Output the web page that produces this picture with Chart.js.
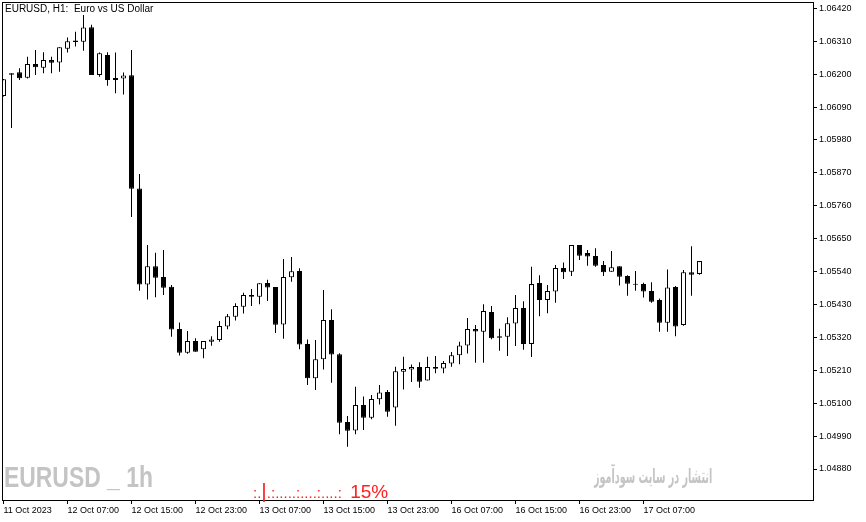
<!DOCTYPE html>
<html>
<head>
<meta charset="utf-8">
<script src="https://cdn.jsdelivr.net/npm/chart.js@4.4.0/dist/chart.umd.min.js"></script>
<style>
body { margin: 0; background: #fff; }
#wrap { position: relative; width: 866px; height: 522px; }
canvas { display: block; }
.ov { position: absolute; white-space: nowrap; pointer-events: none; }
</style>
</head>
<body>
<div id="wrap">
<canvas id="chart" width="866" height="522"></canvas>
<div class="ov" style="left:5px;top:3px;font:10px/12px 'Liberation Sans',Arial,sans-serif;color:#000">EURUSD, H1:&nbsp; Euro vs US Dollar</div>
<div class="ov" style="left:4px;top:463px;font:bold 29px/29px 'Liberation Sans',Arial,sans-serif;color:#c4c4c4;transform:scaleX(0.79);transform-origin:0 0">EURUSD _ 1h</div>
<div class="ov" dir="rtl" style="right:154px;top:464px;font:bold 20px/24px 'DejaVu Sans',sans-serif;color:#c4c4c4;transform:scaleX(0.48);transform-origin:100% 0">انتشار در سایت سودآموز</div>
<div class="ov" style="left:253px;top:481px;font:15px/20px 'Liberation Sans',Arial,sans-serif;color:#ff2020">:.<span style="font-size:21px">|</span>.:.....:....:....:&nbsp; <span style="font-size:19px">15%</span></div>
</div>
<script>
// EURUSD H1 candles, 11 Oct 23:00 .. 17 Oct 14:00
const opens = [1.06127, 1.06203, 1.06206, 1.06188, 1.06234, 1.06221, 1.06247, 1.06239, 1.06285, 1.06312,
    1.06308, 1.06357, 1.06197, 1.06264, 1.06187, 1.06185, 1.06196, 1.05818, 1.05497, 1.05558,
    1.05522, 1.05489, 1.05348, 1.05269, 1.05308, 1.05280, 1.05305, 1.05311, 1.05356, 1.05389,
    1.05422, 1.05462, 1.05456, 1.05502, 1.05488, 1.05363, 1.05521, 1.05542, 1.05298, 1.05183,
    1.05247, 1.05378, 1.05264, 1.05037, 1.05009, 1.05094, 1.05051, 1.05113, 1.05137, 1.05086,
    1.05205, 1.05213, 1.05221, 1.05176, 1.05221, 1.05216, 1.05233, 1.05260, 1.05293, 1.05348,
    1.05339, 1.05405, 1.05324, 1.05322, 1.05366, 1.05418, 1.05298, 1.05502, 1.05445, 1.05473,
    1.05552, 1.05539, 1.05629, 1.05602, 1.05592, 1.05562, 1.05539, 1.05558, 1.05525, 1.05499,
    1.05498, 1.05475, 1.05445, 1.05369, 1.05488, 1.05361, 1.05538, 1.05532];
const highs = [1.06184, 1.06203, 1.06220, 1.06258, 1.06281, 1.06273, 1.06258, 1.06290, 1.06322, 1.06342,
    1.06398, 1.06365, 1.06272, 1.06273, 1.06272, 1.06205, 1.06281, 1.05866, 1.05629, 1.05603,
    1.05612, 1.05495, 1.05370, 1.05341, 1.05317, 1.05308, 1.05324, 1.05375, 1.05398, 1.05434,
    1.05469, 1.05482, 1.05501, 1.05513, 1.05488, 1.05582, 1.05589, 1.05551, 1.05313, 1.05311,
    1.05478, 1.05414, 1.05267, 1.05057, 1.05155, 1.05122, 1.05127, 1.05161, 1.05144, 1.05222,
    1.05255, 1.05229, 1.05237, 1.05255, 1.05258, 1.05241, 1.05271, 1.05305, 1.05385, 1.05361,
    1.05431, 1.05425, 1.05349, 1.05387, 1.05462, 1.05441, 1.05556, 1.05528, 1.05495, 1.05562,
    1.05570, 1.05629, 1.05629, 1.05612, 1.05618, 1.05575, 1.05609, 1.05558, 1.05528, 1.05542,
    1.05503, 1.05504, 1.05450, 1.05547, 1.05492, 1.05545, 1.05625, 1.05575];
const lows = [1.06125, 1.06020, 1.06180, 1.06185, 1.06197, 1.06203, 1.06203, 1.06208, 1.06272, 1.06292,
    1.06278, 1.06197, 1.06191, 1.06161, 1.06136, 1.06132, 1.05722, 1.05476, 1.05447, 1.05454,
    1.05462, 1.05322, 1.05259, 1.05265, 1.05272, 1.05250, 1.05292, 1.05305, 1.05347, 1.05376,
    1.05400, 1.05425, 1.05431, 1.05442, 1.05335, 1.05315, 1.05506, 1.05280, 1.05161, 1.05144,
    1.05213, 1.05168, 1.04996, 1.04954, 1.04996, 1.05010, 1.05046, 1.05096, 1.05055, 1.05025,
    1.05146, 1.05171, 1.05152, 1.05176, 1.05200, 1.05200, 1.05222, 1.05230, 1.05266, 1.05235,
    1.05235, 1.05314, 1.05275, 1.05258, 1.05291, 1.05279, 1.05254, 1.05391, 1.05401, 1.05436,
    1.05515, 1.05525, 1.05579, 1.05559, 1.05556, 1.05525, 1.05539, 1.05493, 1.05459, 1.05476,
    1.05453, 1.05436, 1.05339, 1.05339, 1.05324, 1.05359, 1.05459, 1.05529];
const closes = [1.06183, 1.06198, 1.06186, 1.06234, 1.06223, 1.06247, 1.06238, 1.06290, 1.06310, 1.06307,
    1.06356, 1.06197, 1.06270, 1.06180, 1.06180, 1.06195, 1.05817, 1.05497, 1.05558, 1.05519,
    1.05486, 1.05346, 1.05269, 1.05308, 1.05272, 1.05308, 1.05313, 1.05358, 1.05391, 1.05425,
    1.05462, 1.05456, 1.05501, 1.05487, 1.05362, 1.05522, 1.05541, 1.05296, 1.05183, 1.05247,
    1.05378, 1.05263, 1.05035, 1.05008, 1.05094, 1.05051, 1.05114, 1.05136, 1.05071, 1.05207,
    1.05214, 1.05221, 1.05172, 1.05221, 1.05215, 1.05234, 1.05260, 1.05293, 1.05348, 1.05340,
    1.05408, 1.05317, 1.05319, 1.05367, 1.05418, 1.05298, 1.05498, 1.05445, 1.05475, 1.05552,
    1.05538, 1.05629, 1.05593, 1.05590, 1.05559, 1.05538, 1.05554, 1.05523, 1.05499, 1.05496,
    1.05473, 1.05439, 1.05369, 1.05487, 1.05356, 1.05538, 1.05529, 1.05575];

const xTickIdx = [0, 8, 16, 24, 32, 40, 48, 56, 64, 72, 80];
const xTickLabels = ['11 Oct 2023', '12 Oct 07:00', '12 Oct 15:00', '12 Oct 23:00', '13 Oct 07:00', '13 Oct 15:00',
    '13 Oct 23:00', '16 Oct 07:00', '16 Oct 15:00', '16 Oct 23:00', '17 Oct 07:00'];
const yTicks = [1.04880, 1.04990, 1.05100, 1.05210, 1.05320, 1.05430, 1.05540, 1.05650,
    1.05760, 1.05870, 1.05980, 1.06090, 1.06200, 1.06310, 1.06420];

const TICK_FONT = {family: "'Liberation Sans', Arial, sans-serif", size: 9};

const framePlugin = {
    id: 'frame',
    afterDraw(chart) {
        const {ctx, chartArea: a} = chart;
        ctx.save();
        ctx.strokeStyle = '#000';
        ctx.lineWidth = 1;
        ctx.strokeRect(a.left - 0.5, a.top - 0.5, a.right - a.left + 1, a.bottom - a.top + 1);
        ctx.restore();
    }
};

new Chart(document.getElementById('chart'), {
    type: 'bar',
    data: {
        datasets: [
            {
                label: 'wick',
                data: lows.map((l, i) => ({x: i, y: [l, highs[i]]})),
                backgroundColor: '#000',
                barThickness: 1,
                inflateAmount: 0,
                grouped: false,
                clip: 0,
                order: 2
            },
            {
                label: 'body',
                data: opens.map((o, i) => ({x: i, y: [o, closes[i]]})),
                backgroundColor: ctx => closes[ctx.dataIndex] >= opens[ctx.dataIndex] ? '#fff' : '#000',
                borderColor: '#000',
                borderWidth: 1,
                borderSkipped: false,
                barThickness: 5,
                inflateAmount: 0,
                grouped: false,
                clip: 0,
                order: 1
            }
        ]
    },
    options: {
        responsive: false,
        animation: false,
        layout: {padding: {left: 3, top: 3, right: 0, bottom: 0}},
        plugins: {
            legend: {display: false},
            tooltip: {enabled: false},
            title: {display: false}
        },
        scales: {
            x: {
                type: 'linear',
                min: -0.0625,
                max: 101.1875,
                offset: false,
                grid: {offset: false, drawOnChartArea: false, drawTicks: true, tickLength: 4, color: '#000'},
                border: {display: false},
                afterBuildTicks: axis => { axis.ticks = xTickIdx.map(v => ({value: v})); },
                afterFit: axis => { axis.height = 22; axis.paddingLeft = 0; axis.paddingRight = 0; },
                ticks: {
                    align: 'start',
                    autoSkip: false,
                    maxRotation: 0,
                    padding: 1,
                    color: '#000',
                    font: TICK_FONT,
                    callback: v => xTickLabels[xTickIdx.indexOf(v)]
                }
            },
            y: {
                position: 'right',
                min: 1.047764,
                max: 1.064377,
                beginAtZero: false,
                grid: {drawOnChartArea: false, drawTicks: true, tickLength: 4, color: '#000'},
                border: {display: false},
                afterBuildTicks: axis => { axis.ticks = yTicks.map(v => ({value: v})); },
                afterFit: axis => { axis.width = 53; axis.paddingTop = 0; axis.paddingBottom = 0; },
                ticks: {
                    padding: 2,
                    color: '#000',
                    font: TICK_FONT,
                    callback: v => v.toFixed(5)
                }
            }
        }
    },
    plugins: [framePlugin]
});
</script>
</body>
</html>
